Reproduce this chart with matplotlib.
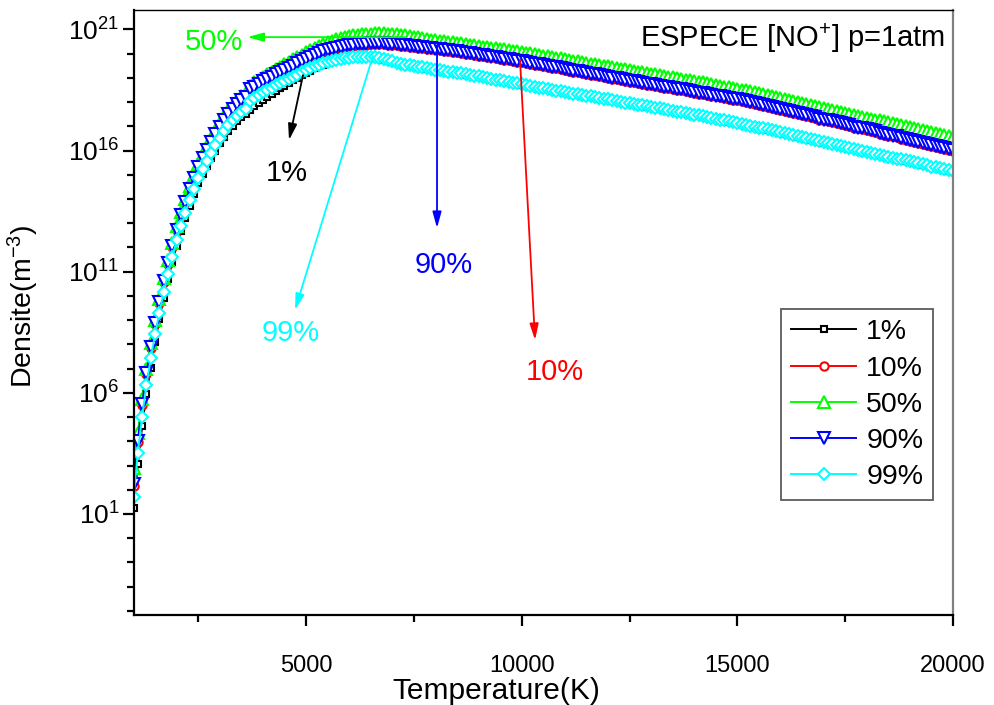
import numpy as np
import matplotlib
matplotlib.use("Agg")
import matplotlib.pyplot as plt
from matplotlib.ticker import FixedLocator, NullFormatter, FuncFormatter

plt.rcParams['font.family'] = ['Liberation Sans', 'DejaVu Sans']
plt.rcParams['mathtext.fontset'] = 'custom'
plt.rcParams['mathtext.rm'] = 'Liberation Sans'
plt.rcParams['mathtext.it'] = 'Liberation Sans:italic'
plt.rcParams['mathtext.bf'] = 'Liberation Sans:bold'

# Temperature grid (K), one sample every 100 K
temperature = np.arange(1000, 20001, 100)

# log10 of NO+ density (m^-3)
log_n_1 = [
    1.23, 3.05, 4.61, 5.97, 7.04, 8.11, 9.03, 9.92, 10.70, 11.40,
    12.06, 12.66, 13.21, 13.73, 14.20, 14.64, 15.03, 15.36, 15.68, 16.00,
    16.30, 16.57, 16.82, 17.03, 17.21, 17.37, 17.52, 17.68, 17.82, 17.96,
    18.09, 18.22, 18.34, 18.46, 18.57, 18.68, 18.79, 18.90, 19.00, 19.10,
    19.20, 19.30, 19.39, 19.47, 19.55, 19.62, 19.68, 19.73, 19.76, 19.79,
    19.81, 19.83, 19.84, 19.85, 19.85, 19.84, 19.82, 19.79, 19.75, 19.71,
    19.66, 19.61, 19.57, 19.53, 19.50, 19.47, 19.44, 19.41, 19.38, 19.35,
    19.32, 19.30, 19.27, 19.24, 19.21, 19.19, 19.16, 19.13, 19.10, 19.07,
    19.04, 19.01, 18.98, 18.95, 18.91, 18.88, 18.85, 18.82, 18.78, 18.75,
    18.71, 18.68, 18.64, 18.61, 18.58, 18.55, 18.52, 18.49, 18.45, 18.42,
    18.39, 18.36, 18.33, 18.30, 18.27, 18.24, 18.21, 18.18, 18.15, 18.12,
    18.09, 18.06, 18.03, 17.99, 17.96, 17.93, 17.90, 17.87, 17.84, 17.81,
    17.78, 17.75, 17.72, 17.69, 17.65, 17.62, 17.59, 17.56, 17.53, 17.49,
    17.46, 17.43, 17.39, 17.36, 17.33, 17.29, 17.26, 17.22, 17.19, 17.15,
    17.12, 17.08, 17.04, 17.01, 16.97, 16.93, 16.89, 16.85, 16.81, 16.77,
    16.73, 16.69, 16.65, 16.61, 16.57, 16.53, 16.49, 16.45, 16.41, 16.37,
    16.33, 16.29, 16.25, 16.21, 16.17, 16.13, 16.09, 16.05, 16.01, 15.97,
    15.93, 15.89, 15.85, 15.81, 15.77, 15.73, 15.69, 15.65, 15.61, 15.57,
    15.53, 15.49, 15.45, 15.41, 15.37, 15.32, 15.28, 15.24, 15.20, 15.16,
    15.12]

log_n_10 = [
    2.15, 3.97, 5.49, 6.76, 7.86, 8.83, 9.71, 10.56, 11.32, 12.02,
    12.70, 13.29, 13.84, 14.36, 14.83, 15.27, 15.66, 15.99, 16.31, 16.63,
    16.94, 17.22, 17.47, 17.69, 17.88, 18.04, 18.18, 18.48, 18.60, 18.71,
    18.82, 18.92, 19.01, 19.10, 19.19, 19.28, 19.37, 19.46, 19.56, 19.66,
    19.75, 19.84, 19.92, 19.99, 20.05, 20.11, 20.16, 20.21, 20.25, 20.28,
    20.31, 20.33, 20.35, 20.36, 20.37, 20.38, 20.38, 20.38, 20.38, 20.37,
    20.36, 20.35, 20.33, 20.31, 20.29, 20.27, 20.25, 20.23, 20.21, 20.19,
    20.17, 20.15, 20.12, 20.10, 20.07, 20.05, 20.02, 20.00, 19.97, 19.95,
    19.92, 19.89, 19.87, 19.84, 19.81, 19.78, 19.75, 19.73, 19.70, 19.67,
    19.64, 19.61, 19.58, 19.55, 19.52, 19.49, 19.45, 19.42, 19.39, 19.36,
    19.33, 19.30, 19.26, 19.23, 19.20, 19.17, 19.13, 19.10, 19.07, 19.04,
    19.01, 18.97, 18.94, 18.91, 18.88, 18.84, 18.81, 18.78, 18.75, 18.71,
    18.69, 18.66, 18.63, 18.60, 18.57, 18.54, 18.51, 18.48, 18.44, 18.41,
    18.38, 18.35, 18.32, 18.29, 18.26, 18.23, 18.19, 18.16, 18.13, 18.10,
    18.07, 18.03, 17.99, 17.95, 17.91, 17.86, 17.82, 17.78, 17.74, 17.70,
    17.66, 17.62, 17.58, 17.53, 17.49, 17.45, 17.41, 17.37, 17.33, 17.28,
    17.24, 17.20, 17.16, 17.12, 17.08, 17.04, 17.00, 16.95, 16.91, 16.87,
    16.83, 16.79, 16.75, 16.70, 16.66, 16.62, 16.58, 16.54, 16.49, 16.45,
    16.41, 16.37, 16.33, 16.28, 16.24, 16.20, 16.16, 16.12, 16.07, 16.03,
    15.99]

log_n_50 = [
    2.90, 4.35, 5.75, 6.98, 8.06, 9.02, 9.89, 10.73, 11.49, 12.19,
    12.87, 13.46, 14.01, 14.53, 15.00, 15.44, 15.84, 16.18, 16.50, 16.82,
    17.13, 17.41, 17.67, 17.89, 18.08, 18.24, 18.38, 18.68, 18.81, 18.93,
    19.05, 19.16, 19.26, 19.36, 19.46, 19.56, 19.66, 19.76, 19.86, 19.96,
    20.06, 20.15, 20.24, 20.32, 20.40, 20.47, 20.53, 20.59, 20.64, 20.68,
    20.72, 20.75, 20.78, 20.80, 20.82, 20.83, 20.84, 20.84, 20.84, 20.83,
    20.82, 20.80, 20.78, 20.76, 20.73, 20.70, 20.67, 20.64, 20.61, 20.58,
    20.56, 20.54, 20.51, 20.49, 20.47, 20.44, 20.42, 20.39, 20.37, 20.34,
    20.32, 20.29, 20.27, 20.24, 20.22, 20.19, 20.17, 20.14, 20.12, 20.09,
    20.07, 20.04, 20.01, 19.98, 19.95, 19.92, 19.89, 19.86, 19.83, 19.80,
    19.77, 19.74, 19.71, 19.68, 19.65, 19.62, 19.59, 19.56, 19.53, 19.50,
    19.47, 19.44, 19.41, 19.38, 19.35, 19.32, 19.29, 19.26, 19.23, 19.20,
    19.17, 19.14, 19.11, 19.08, 19.05, 19.02, 18.99, 18.96, 18.93, 18.90,
    18.87, 18.84, 18.81, 18.77, 18.74, 18.71, 18.68, 18.64, 18.61, 18.58,
    18.55, 18.51, 18.48, 18.44, 18.40, 18.36, 18.32, 18.28, 18.24, 18.20,
    18.16, 18.12, 18.08, 18.04, 18.00, 17.96, 17.92, 17.88, 17.84, 17.80,
    17.76, 17.72, 17.68, 17.64, 17.60, 17.56, 17.52, 17.48, 17.44, 17.40,
    17.36, 17.32, 17.28, 17.24, 17.20, 17.16, 17.12, 17.08, 17.04, 17.00,
    16.96, 16.92, 16.88, 16.84, 16.80, 16.76, 16.72, 16.68, 16.64, 16.60,
    16.56]

log_n_90 = [
    2.23, 4.02, 5.53, 6.80, 7.90, 8.87, 9.75, 10.60, 11.36, 12.06,
    12.74, 13.33, 13.88, 14.40, 14.87, 15.31, 15.70, 16.03, 16.35, 16.67,
    16.98, 17.26, 17.51, 17.73, 17.92, 18.08, 18.22, 18.52, 18.64, 18.75,
    18.86, 18.96, 19.05, 19.14, 19.23, 19.32, 19.41, 19.50, 19.60, 19.70,
    19.79, 19.88, 19.96, 20.03, 20.09, 20.15, 20.20, 20.25, 20.29, 20.32,
    20.35, 20.37, 20.39, 20.40, 20.41, 20.42, 20.42, 20.42, 20.42, 20.41,
    20.40, 20.39, 20.37, 20.35, 20.33, 20.31, 20.29, 20.27, 20.25, 20.23,
    20.21, 20.19, 20.16, 20.14, 20.11, 20.09, 20.06, 20.04, 20.01, 19.99,
    19.96, 19.93, 19.91, 19.88, 19.85, 19.82, 19.79, 19.77, 19.74, 19.71,
    19.68, 19.65, 19.62, 19.59, 19.56, 19.53, 19.49, 19.46, 19.43, 19.40,
    19.37, 19.34, 19.30, 19.27, 19.24, 19.21, 19.17, 19.14, 19.11, 19.08,
    19.05, 19.01, 18.98, 18.95, 18.92, 18.88, 18.85, 18.82, 18.79, 18.76,
    18.73, 18.70, 18.67, 18.64, 18.61, 18.58, 18.55, 18.52, 18.48, 18.45,
    18.42, 18.39, 18.36, 18.33, 18.30, 18.27, 18.23, 18.20, 18.17, 18.14,
    18.11, 18.07, 18.03, 17.99, 17.95, 17.90, 17.86, 17.82, 17.78, 17.74,
    17.70, 17.66, 17.62, 17.57, 17.53, 17.49, 17.45, 17.41, 17.37, 17.32,
    17.28, 17.24, 17.20, 17.16, 17.12, 17.08, 17.04, 16.99, 16.95, 16.91,
    16.87, 16.83, 16.79, 16.74, 16.70, 16.66, 16.62, 16.58, 16.53, 16.49,
    16.45, 16.41, 16.37, 16.32, 16.28, 16.24, 16.20, 16.16, 16.11, 16.07,
    16.03]

log_n_99 = [
    1.68, 3.51, 5.02, 6.32, 7.42, 8.42, 9.30, 10.15, 10.91, 11.61,
    12.29, 12.88, 13.43, 13.95, 14.42, 14.86, 15.25, 15.57, 15.89, 16.21,
    16.52, 16.79, 17.04, 17.25, 17.42, 17.58, 17.72, 18.05, 18.18, 18.30,
    18.41, 18.51, 18.60, 18.69, 18.77, 18.86, 18.95, 19.04, 19.13, 19.23,
    19.32, 19.40, 19.47, 19.54, 19.60, 19.66, 19.71, 19.75, 19.78, 19.81,
    19.83, 19.85, 19.86, 19.87, 19.87, 19.86, 19.84, 19.81, 19.77, 19.73,
    19.68, 19.63, 19.59, 19.55, 19.52, 19.49, 19.46, 19.43, 19.40, 19.37,
    19.34, 19.32, 19.29, 19.26, 19.23, 19.21, 19.18, 19.15, 19.12, 19.09,
    19.06, 19.03, 19.00, 18.97, 18.93, 18.90, 18.87, 18.84, 18.80, 18.77,
    18.73, 18.70, 18.66, 18.63, 18.60, 18.57, 18.54, 18.51, 18.47, 18.44,
    18.41, 18.38, 18.35, 18.32, 18.29, 18.26, 18.23, 18.20, 18.17, 18.14,
    18.11, 18.08, 18.05, 18.01, 17.98, 17.95, 17.92, 17.89, 17.86, 17.83,
    17.80, 17.77, 17.74, 17.71, 17.67, 17.64, 17.61, 17.58, 17.55, 17.51,
    17.48, 17.45, 17.41, 17.38, 17.35, 17.31, 17.28, 17.24, 17.21, 17.17,
    17.14, 17.10, 17.06, 17.03, 16.99, 16.95, 16.91, 16.87, 16.83, 16.79,
    16.75, 16.71, 16.67, 16.63, 16.59, 16.55, 16.51, 16.47, 16.43, 16.39,
    16.35, 16.31, 16.27, 16.23, 16.19, 16.15, 16.11, 16.07, 16.03, 15.99,
    15.95, 15.91, 15.87, 15.83, 15.79, 15.75, 15.71, 15.67, 15.63, 15.59,
    15.55, 15.51, 15.47, 15.43, 15.39, 15.34, 15.30, 15.26, 15.22, 15.18,
    15.14]

series_labels = ['1%', '10%', '50%', '90%', '99%']
series_logs = [log_n_1, log_n_10, log_n_50, log_n_90, log_n_99]
colors = ['black', 'red', '#00ff00', '#0000ff', '#00ffff']
markers = ['s', 'o', '^', 'v', 'D']
msizes = [5, 6, 8, 8, 6.5]

# Annotation arrows: (label, color, tail (T, log n), head (T, log n), text pos (T, log n))
annotations = [
    ('50%', '#00ff00', (7300, 20.68), (3640, 20.68), (2866, 20.48)),
    ('1%', 'black', (4930, 19.11), (4606, 16.43), (4564, 15.07)),
    ('99%', '#00ffff', (6550, 19.9), (4745, 9.42), (4652, 8.47)),
    ('90%', '#0000ff', (8037, 20.35), (8037, 12.80), (8199, 11.27)),
    ('10%', 'red', (9961, 19.75), (10309, 8.18), (10772, 6.86)),
]

fig = plt.figure(figsize=(9.94, 7.05), dpi=100)
ax = fig.add_axes([133.5 / 994, 1 - 615 / 705, (953 - 133.5) / 994, (615 - 10) / 705])

for lab, logs, c, m, ms in zip(series_labels, series_logs, colors, markers, msizes):
    ax.plot(temperature, 10.0 ** np.array(logs), color=c, lw=1.4, marker=m, ms=ms,
            mfc='white', mec=c, mew=1.5, label=lab)

for lab, c, tail, head, tpos in annotations:
    ax.annotate('', xy=(head[0], 10 ** head[1]), xytext=(tail[0], 10 ** tail[1]),
                arrowprops=dict(arrowstyle='-|>,head_length=0.8,head_width=0.22',
                                color=c, lw=1.3, shrinkA=0, shrinkB=0, mutation_scale=12),
                zorder=10)
    ax.text(tpos[0], 10 ** tpos[1], lab, color=c, fontsize=21, ha='center', va='center', zorder=11)

ax.set_yscale('log')
ax.set_xlim(1000, 20000)
ax.set_ylim(10 ** -3.17, 10 ** 21.8)

ax.xaxis.set_major_locator(FixedLocator([5000, 10000, 15000, 20000]))
ax.xaxis.set_minor_locator(FixedLocator([2500, 7500, 12500, 17500]))
ax.yaxis.set_major_locator(FixedLocator([1e1, 1e6, 1e11, 1e16, 1e21]))
ax.yaxis.set_minor_locator(FixedLocator([10.0 ** k for k in range(-3, 22) if k % 5 != 1]))
ax.yaxis.set_minor_formatter(NullFormatter())
ax.yaxis.set_major_formatter(FuncFormatter(lambda v, p: r'$10^{%d}$' % int(round(np.log10(v)))))

ax.tick_params(which='both', direction='out', top=False, right=False)
ax.tick_params(axis='x', which='major', labelsize=17, pad=21)
ax.tick_params(axis='y', which='major', labelsize=19, pad=2)
ax.tick_params(which='major', length=8, width=1.6)
ax.tick_params(which='minor', length=5, width=1.6)
for s in ['left', 'bottom']:
    ax.spines[s].set_linewidth(1.6)
ax.spines['top'].set_linewidth(1.0)
ax.spines['right'].set_linewidth(1.6)
ax.spines['right'].set_color('#808080')

ax.set_xlabel('Temperature(K)', fontsize=21.5)
ax.xaxis.set_label_coords((496 - 133.5) / 819.5, -0.102)
ax.set_ylabel('Densite(m$^{-3}$)', fontsize=20.5)
ax.yaxis.set_label_coords(-0.113, 0.51)

ax.text(0.99, 0.954, 'ESPECE [NO$^{+}$] p=1atm', transform=ax.transAxes, fontsize=21,
        ha='right', va='center')

leg = ax.legend(loc='upper left', bbox_to_anchor=(0.79, 0.505), fontsize=20.5, frameon=True,
                fancybox=False, edgecolor='#333333', handlelength=2.3, handletextpad=0.35,
                labelspacing=0.36, borderpad=0.35, borderaxespad=0)
leg.get_frame().set_linewidth(1.3)

fig.savefig('out.png', dpi=100)
